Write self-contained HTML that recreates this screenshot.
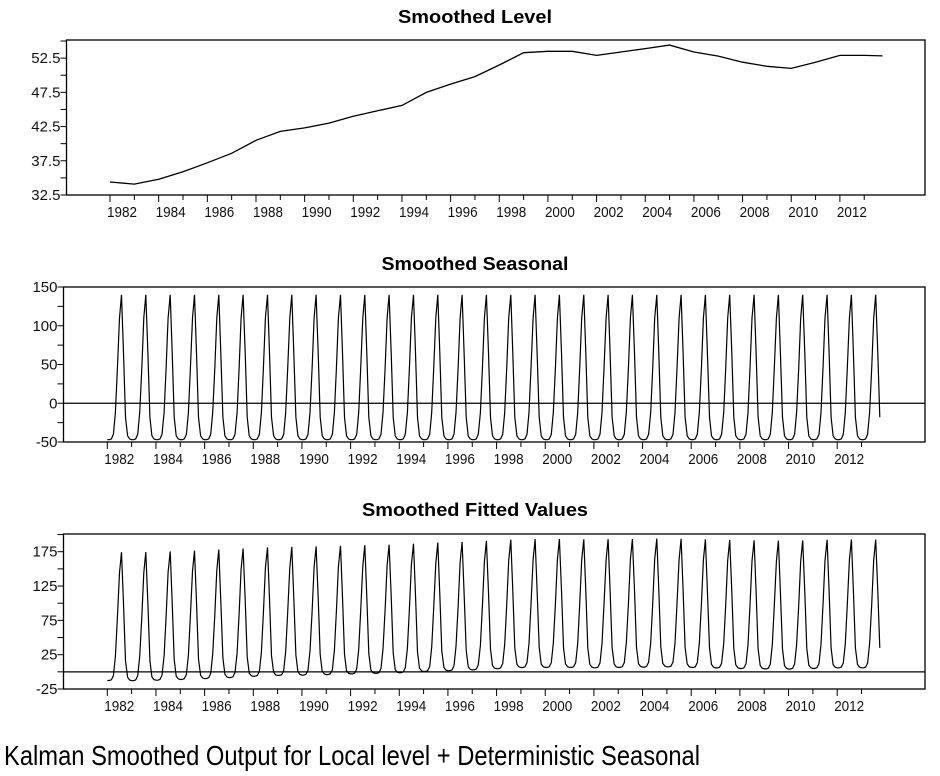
<!DOCTYPE html>
<html><head><meta charset="utf-8"><style>
body{margin:0;background:#fff;}
svg{display:block;font-family:"Liberation Sans Narrow","Liberation Sans",sans-serif;}
</style></head><body>
<svg id="c" width="940" height="776" viewBox="0 0 940 776" xmlns="http://www.w3.org/2000/svg"></svg>
<script>
// yearly smoothed level (value at start of each year 1982..2014)
const levelYears = [1982,1983,1984,1985,1986,1987,1988,1989,1990,1991,1992,1993,1994,1995,1996,1997,1998,1999,2000,2001,2002,2003,2004,2005,2006,2007,2008,2009,2010,2011,2012,2013,2014];
const levelValues = [34.4,34.1,34.8,35.9,37.2,38.6,40.5,41.8,42.3,43.0,44.0,44.8,45.6,47.5,48.7,49.8,51.5,53.3,53.5,53.5,52.9,53.4,53.9,54.4,53.4,52.8,51.9,51.3,51.0,51.9,52.9,52.9,52.8];
// deterministic monthly seasonal pattern Jan..Dec
const seasonalPattern = [-47,-47,-46,-40,-12,45,110,140,65,-18,-42,-46];
const startYear = 1982, nMonths = 382;
const xTickYears = [1982,1984,1986,1988,1990,1992,1994,1996,1998,2000,2002,2004,2006,2008,2010,2012];
const levelTicks = ["32.5","37.5","42.5","47.5","52.5"];
const seasonalTicks = ["-50","0","50","100","150"];
const fittedTicks = ["-25","25","75","125","175"];

const NS="http://www.w3.org/2000/svg";
const svg=document.getElementById('c');
function el(tag,attrs,parent){const e=document.createElementNS(NS,tag);for(const k in attrs)e.setAttribute(k,attrs[k]);(parent||svg).appendChild(e);return e;}
function levelAt(t){
  for(let i=0;i<levelYears.length-1;i++){
    if(t<=levelYears[i+1]){const f=(t-levelYears[i])/(levelYears[i+1]-levelYears[i]);return levelValues[i]+f*(levelValues[i+1]-levelValues[i]);}
  }
  return levelValues[levelValues.length-1];
}
function panel(cfg){
  const g=el('g',{});
  
  
  const xs=t=>cfg.x0+(t-1982)*24.33;
  const ys=v=>cfg.bottom-(v-cfg.vmin)*(cfg.bottom-cfg.top)/(cfg.vmax-cfg.vmin);
  const fr=el('rect',{x:cfg.left,y:cfg.top,width:925-cfg.left,height:cfg.bottom-cfg.top,fill:'none',stroke:'#000','stroke-width':1.3},g);
  
  
  const t=el('text',{x:475,y:cfg.titleY,'text-anchor':'middle','font-size':18,'font-weight':'bold',textLength:cfg.titleW,lengthAdjust:'spacingAndGlyphs'},g);
  t.textContent=cfg.title;
  
  
  for(let y=1982;y<=2013;y++){
    const x=xs(y);const major=(y%2===0);
    el('line',{x1:x,x2:x,y1:cfg.bottom,y2:cfg.bottom+(major?7:5),stroke:'#000','stroke-width':1},g);
  }
  xTickYears.forEach(y=>{
    const tx=el('text',{x:xs(y)-3,y:cfg.bottom+22,'font-size':15,fill:'#111',textLength:30,lengthAdjust:'spacingAndGlyphs'},g);
    tx.textContent=y;
    
    
  });
  for(let v=cfg.vmin;v<=cfg.vmax+1e-6;v+=cfg.minorStep){
    el('line',{x1:cfg.left-6,x2:cfg.left,y1:ys(v),y2:ys(v),stroke:'#000','stroke-width':1},g);
  }
  cfg.ticks.forEach(s=>{
    const ty=el('text',{x:cfg.left-6,y:ys(parseFloat(s))+5,'text-anchor':'end','font-size':15,fill:'#111'},g);
    ty.textContent=s;
    
    
  });
  if(cfg.zero){
    const z=el('line',{x1:cfg.left,x2:925,y1:ys(0),y2:ys(0),stroke:'#000','stroke-width':1.2},g);
    
    
  }
  return {g,xs,ys};
}
const p1=panel({name:'smoothed-level-panel',title:'Smoothed Level',titleY:23,titleW:154,left:66.5,x0:110,top:40,bottom:195,vmin:32.5,vmax:55.15,minorStep:2.5,ticks:levelTicks});
let d='';
const lastT=startYear+(nMonths-1)/12;
levelYears.forEach((yr,i)=>{if(yr<=lastT+0.01){d+=(i?'L':'M')+p1.xs(yr).toFixed(1)+' '+p1.ys(levelValues[i]).toFixed(1);}});
d+='L'+p1.xs(lastT).toFixed(1)+' '+p1.ys(levelAt(lastT)).toFixed(1);
const l1=el('path',{d,fill:'none',stroke:'#000','stroke-width':1.3},p1.g);


const p2=panel({name:'smoothed-seasonal-panel',title:'Smoothed Seasonal',titleY:270,titleW:187,left:63.5,x0:107.3,top:287,bottom:442,vmin:-50,vmax:150,minorStep:25,ticks:seasonalTicks,zero:true});
d='';
for(let m=0;m<nMonths;m++){const t=startYear+m/12;d+=(m?'L':'M')+p2.xs(t).toFixed(1)+' '+p2.ys(seasonalPattern[m%12]).toFixed(1);}
const l2=el('path',{d,fill:'none',stroke:'#000','stroke-width':1.2},p2.g);


const p3=panel({name:'smoothed-fitted-panel',title:'Smoothed Fitted Values',titleY:516,titleW:226,left:63.5,x0:107.3,top:534,bottom:689,vmin:-25,vmax:200.8,minorStep:25,ticks:fittedTicks,zero:true});
d='';
for(let m=0;m<nMonths;m++){const t=startYear+m/12;d+=(m?'L':'M')+p3.xs(t).toFixed(1)+' '+p3.ys(levelAt(t)+seasonalPattern[m%12]).toFixed(1);}
const l3=el('path',{d,fill:'none',stroke:'#000','stroke-width':1.2},p3.g);


const cap=el('text',{x:4,y:765,'font-size':28,fill:'#000',textLength:696,lengthAdjust:'spacingAndGlyphs'});
cap.textContent='Kalman Smoothed Output for Local level + Deterministic Seasonal';


</script>
</body></html>
